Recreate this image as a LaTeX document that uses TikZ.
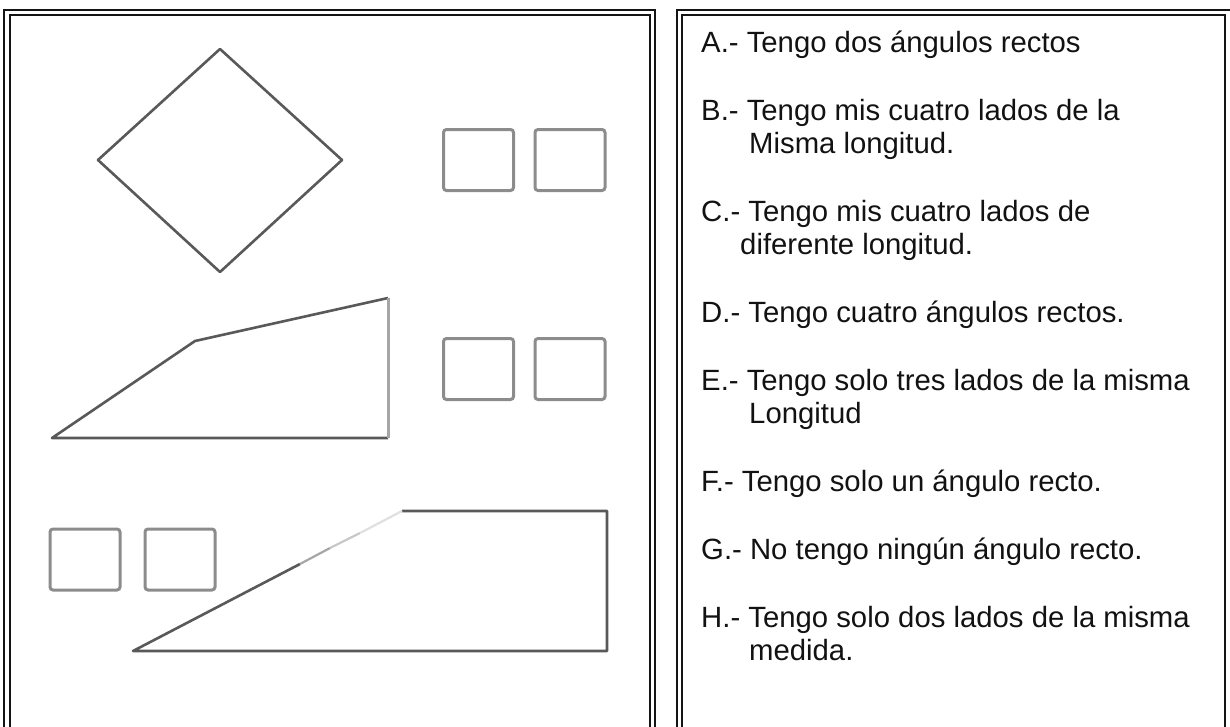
\documentclass[tikz,border=0pt]{standalone}
\usepackage{fontspec}
\setmainfont{Liberation Sans}
\begin{document}
\begin{tikzpicture}[x=1pt,y=-1pt,
  frame/.style={draw=black!92, line width=2.6pt},
  figline/.style={draw=black!65, line width=2.6pt, line join=round},
  answerbox/.style={draw=black!45, line width=3pt, rounded corners=3pt, minimum width=70pt, minimum height=61pt, inner sep=0pt, fill=white},
  txt/.style={anchor=base west, inner sep=0pt, font=\fontsize{29.3}{33}\selectfont, text=black!93}]
\useasboundingbox (0,0) rectangle (1230,726);
\fill[white] (0,0) rectangle (1230,726);
% left panel frame
\draw[frame] (4,740) -- (4,10) -- (655,10) -- (655,740);
\draw[frame] (10,740) -- (10,15) -- (650,15) -- (650,740);
% right panel frame
\draw[frame] (677,740) -- (677,10) -- (1240,10);
\draw[frame] (682,740) -- (682,15) -- (1225,15) -- (1225,740);
% diamond
\draw[figline] (220,49) -- (342,160) -- (220,272) -- (98,160) -- cycle;
% first trapezoid
\draw[figline] (388,438) -- (52,438) -- (195,341) -- (388,298);
\draw[draw=black!35, line width=3pt] (388,298) -- (388,438);
% second trapezoid
\draw[figline] (402,511) -- (607,511) -- (607,651) -- (133,651) -- (300,564);
\draw[draw=black!35, line width=2.2pt] (300,564) -- (330,548);
\draw[draw=black!22, line width=2.2pt] (330,548) -- (360,533);
\draw[draw=black!12, line width=2.2pt] (360,533) -- (402,511);
% answer boxes
\node[answerbox] (b11) at (478.5,160) {};
\node[answerbox] (b12) at (570,160) {};
\node[answerbox] (b21) at (478.5,369) {};
\node[answerbox] (b22) at (570,369) {};
\node[answerbox] (b31) at (85,559.5) {};
\node[answerbox] (b32) at (180,559.5) {};
% statements
\node[txt] (ta)  at (701,52)  {A.- Tengo dos ángulos rectos};
\node[txt] (tb)  at (701,120) {B.- Tengo mis cuatro lados de la};
\node[txt] (tb2) at (749,153) {Misma longitud.};
\node[txt] (tc)  at (701,221) {C.- Tengo mis cuatro lados de};
\node[txt] (tc2) at (740,254) {diferente longitud.};
\node[txt] (td)  at (701,322) {D.- Tengo cuatro ángulos rectos.};
\node[txt] (te)  at (701,390) {E.- Tengo solo tres lados de la misma};
\node[txt] (te2) at (749,423) {Longitud};
\node[txt] (tf)  at (701,491) {F.- Tengo solo un ángulo recto.};
\node[txt] (tg)  at (701,559) {G.- No tengo ningún ángulo recto.};
\node[txt] (th)  at (701,627) {H.- Tengo solo dos lados de la misma};
\node[txt] (th2) at (749,660) {medida.};
\end{tikzpicture}
\end{document}
